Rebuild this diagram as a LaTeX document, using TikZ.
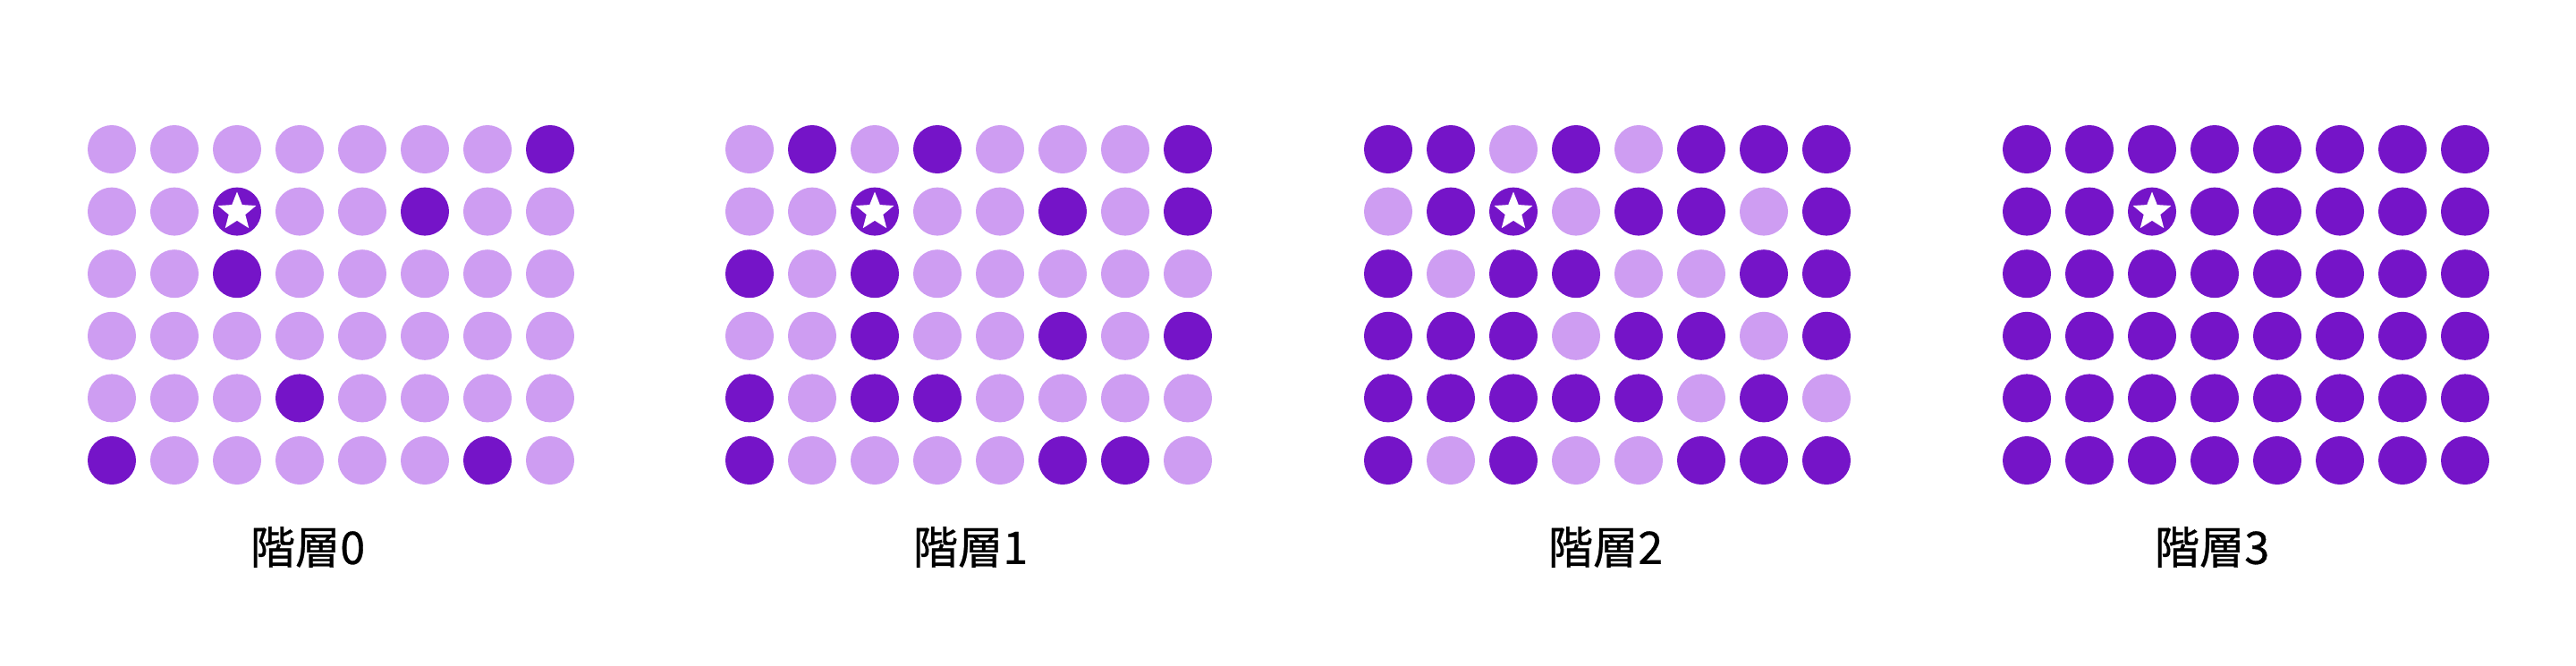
\documentclass[tikz,border=0pt]{standalone}
\usepackage{fontspec}
\newfontfamily\cjk[FakeBold=0.6]{Noto Sans CJK JP}
\usetikzlibrary{shapes.geometric}
\definecolor{dot0}{RGB}{206,157,242}
\definecolor{dot1}{RGB}{117,20,200}
\tikzset{
  layerlabel/.style={font=\cjk\fontsize{14.3pt}{14.3pt}\selectfont, text=black},
  starmark/.style={star, star points=5, star point ratio=2.3, fill=white,
    inner sep=0pt, minimum size=4.5mm}
}
% #1 = index, #2 = left column x, #3 = rows (0 light, 1 dark)
\newcommand\dotgrid[3]{%
  \foreach \row [count=\r from 0] in {#3} {
    \foreach \v [count=\c from 0] in \row
      \fill[dot\v] (#2+\c*0.7, -1.67-\r*0.696) circle (0.27);
  }
  \node[starmark] (star#1) at (#2+1.4, -2.37) {};
}

\begin{document}
\begin{tikzpicture}
  \useasboundingbox (0,0) rectangle (28.8,-7.44);

  \dotgrid{0}{1.25}{{0,0,0,0,0,0,0,1},{0,0,1,0,0,1,0,0},{0,0,1,0,0,0,0,0},
    {0,0,0,0,0,0,0,0},{0,0,0,1,0,0,0,0},{1,0,0,0,0,0,1,0}}
  \dotgrid{1}{8.38}{{0,1,0,1,0,0,0,1},{0,0,1,0,0,1,0,1},{1,0,1,0,0,0,0,0},
    {0,0,1,0,0,1,0,1},{1,0,1,1,0,0,0,0},{1,0,0,0,0,1,1,0}}
  \dotgrid{2}{15.52}{{1,1,0,1,0,1,1,1},{0,1,1,0,1,1,0,1},{1,0,1,1,0,0,1,1},
    {1,1,1,0,1,1,0,1},{1,1,1,1,1,0,1,0},{1,0,1,0,0,1,1,1}}
  \dotgrid{3}{22.66}{{1,1,1,1,1,1,1,1},{1,1,1,1,1,1,1,1},{1,1,1,1,1,1,1,1},
    {1,1,1,1,1,1,1,1},{1,1,1,1,1,1,1,1},{1,1,1,1,1,1,1,1}}

  \node[layerlabel] (lab0) at (3.44,-6.12)  {階層0};
  \node[layerlabel] (lab1) at (10.85,-6.12) {階層1};
  \node[layerlabel] (lab2) at (17.95,-6.12) {階層2};
  \node[layerlabel] (lab3) at (24.73,-6.12) {階層3};
\end{tikzpicture}
\end{document}
